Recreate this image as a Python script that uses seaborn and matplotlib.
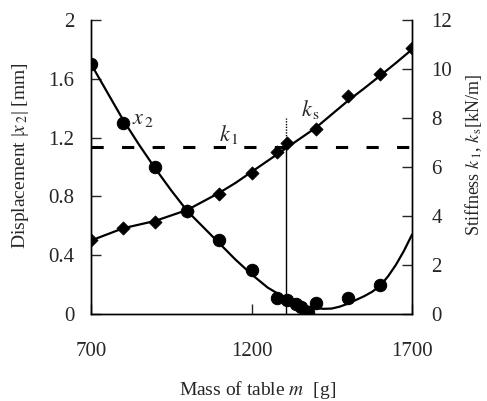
import matplotlib
matplotlib.use("Agg")
import matplotlib.pyplot as plt
import seaborn as sns

# measured displacement |x2| (left axis, mm)
mass_disp = [700, 800, 900, 1000, 1100, 1200, 1280, 1310, 1340, 1355, 1375, 1400, 1500, 1600]
disp = [1.70, 1.30, 1.00, 0.70, 0.50, 0.30, 0.11, 0.095, 0.07, 0.045, 0.015, 0.075, 0.11, 0.20]

# measured stiffness ks (right axis, kN/m)
mass_stiff = [700, 800, 900, 1000, 1100, 1200, 1280, 1310, 1400, 1500, 1600, 1700]
stiff = [3.0, 3.52, 3.75, 4.2, 4.9, 5.76, 6.6, 7.0, 7.55, 8.9, 9.8, 10.85]

# calculated curves
curve_mass = [700, 750, 800, 850, 900, 950, 1000, 1050, 1100, 1150, 1200,
              1250, 1300, 1325, 1350, 1375, 1400, 1425, 1450, 1475, 1500,
              1525, 1550, 1575, 1600, 1625, 1650, 1675, 1700]
disp_curve = [1.70, 1.51, 1.32, 1.15, 0.99, 0.84, 0.70, 0.59, 0.48, 0.37, 0.27,
              0.18, 0.115, 0.088, 0.065, 0.05, 0.04, 0.035, 0.037, 0.05, 0.07,
              0.095, 0.12, 0.15, 0.19, 0.255, 0.335, 0.43, 0.54]
stiff_curve_mass = [700, 800, 900, 1000, 1100, 1150, 1200, 1250, 1300, 1350,
                    1400, 1450, 1500, 1550, 1600, 1650, 1700]
stiff_curve = [3.0, 3.5, 3.8, 4.25, 4.95, 5.35, 5.8, 6.25, 6.7, 7.15,
               7.6, 8.15, 8.7, 9.2, 9.72, 10.25, 10.8]

k1_value = 6.83      # kN/m, dashed line
ks_mass = 1306       # g, where ks crosses k1
ks_top = 8.0         # top of the dotted marker line

sns.set_theme(style="ticks")
plt.rcParams['font.family'] = ['Liberation Serif', 'DejaVu Serif']
plt.rcParams['mathtext.fontset'] = 'stix'

fig = plt.figure(figsize=(4.87, 4.01), dpi=100)
ax = fig.add_axes([0.187, 0.217, 0.659, 0.733])
ax2 = ax.twinx()

# displacement
sns.lineplot(x=curve_mass, y=disp_curve, ax=ax, color='black', lw=1.6,
             sort=False, estimator=None)
sns.scatterplot(x=mass_disp, y=disp, ax=ax, color='black', marker='o',
                s=80, edgecolor='black', zorder=3)

# stiffness
sns.lineplot(x=stiff_curve_mass, y=stiff_curve, ax=ax2, color='black', lw=1.6,
             sort=False, estimator=None)
sns.scatterplot(x=mass_stiff, y=stiff, ax=ax2, color='black', marker='D',
                s=45, edgecolor='black', zorder=3)
ax2.axhline(k1_value, color='black', lw=2.2, linestyle=(0, (4, 6)))
ax2.plot([ks_mass, ks_mass], [0, k1_value], color='black', lw=1.0)
ax2.plot([ks_mass, ks_mass], [k1_value, ks_top], color='black', lw=1.0,
         linestyle=(0, (1, 1)))

ax.set_xlim(700, 1700)
ax.set_ylim(0, 2)
ax2.set_ylim(0, 12)
ax.set_xticks([700, 1200, 1700])
ax.set_yticks([0, 0.4, 0.8, 1.2, 1.6, 2])
ax.set_yticklabels(['0', '0.4', '0.8', '1.2', '1.6', '2'])
ax2.set_yticks([0, 2, 4, 6, 8, 10, 12])

for a in (ax, ax2):
    a.spines['top'].set_visible(False)
    for sp in a.spines.values():
        sp.set_linewidth(1.0)
        sp.set_color('black')
ax.tick_params(axis='y', direction='in', length=7, width=1, labelsize=15, pad=12)
ax.tick_params(axis='x', direction='in', length=7, width=1, labelsize=15, pad=20)
ax2.tick_params(axis='y', direction='in', length=7, width=1, labelsize=15, pad=14)

ax.set_xlabel(r'Mass of table $m$  [g]', fontsize=14)
ax.xaxis.set_label_coords(0.52, -0.22)
ax.set_ylabel(r'Displacement |$x_{\,2}$| [mm]', fontsize=14)
ax.yaxis.set_label_coords(-0.187, 0.54)
ax2.set_ylabel(r'Stiffness $k_{\,1}$, $k_{\,\mathrm{s}}$[kN/m]', fontsize=13)
ax2.yaxis.set_label_coords(1.16, 0.54)

ax.text(862, 1.32, r'$x_{\,2}$', fontsize=16, ha='center', va='center')
ax.text(1130, 1.22, r'$k_{\,1}$', fontsize=16, ha='center', va='center')
ax.text(1385, 1.39, r'$k_{\,\mathrm{s}}$', fontsize=16, ha='center', va='center')

fig.savefig('out.png', dpi=100)
